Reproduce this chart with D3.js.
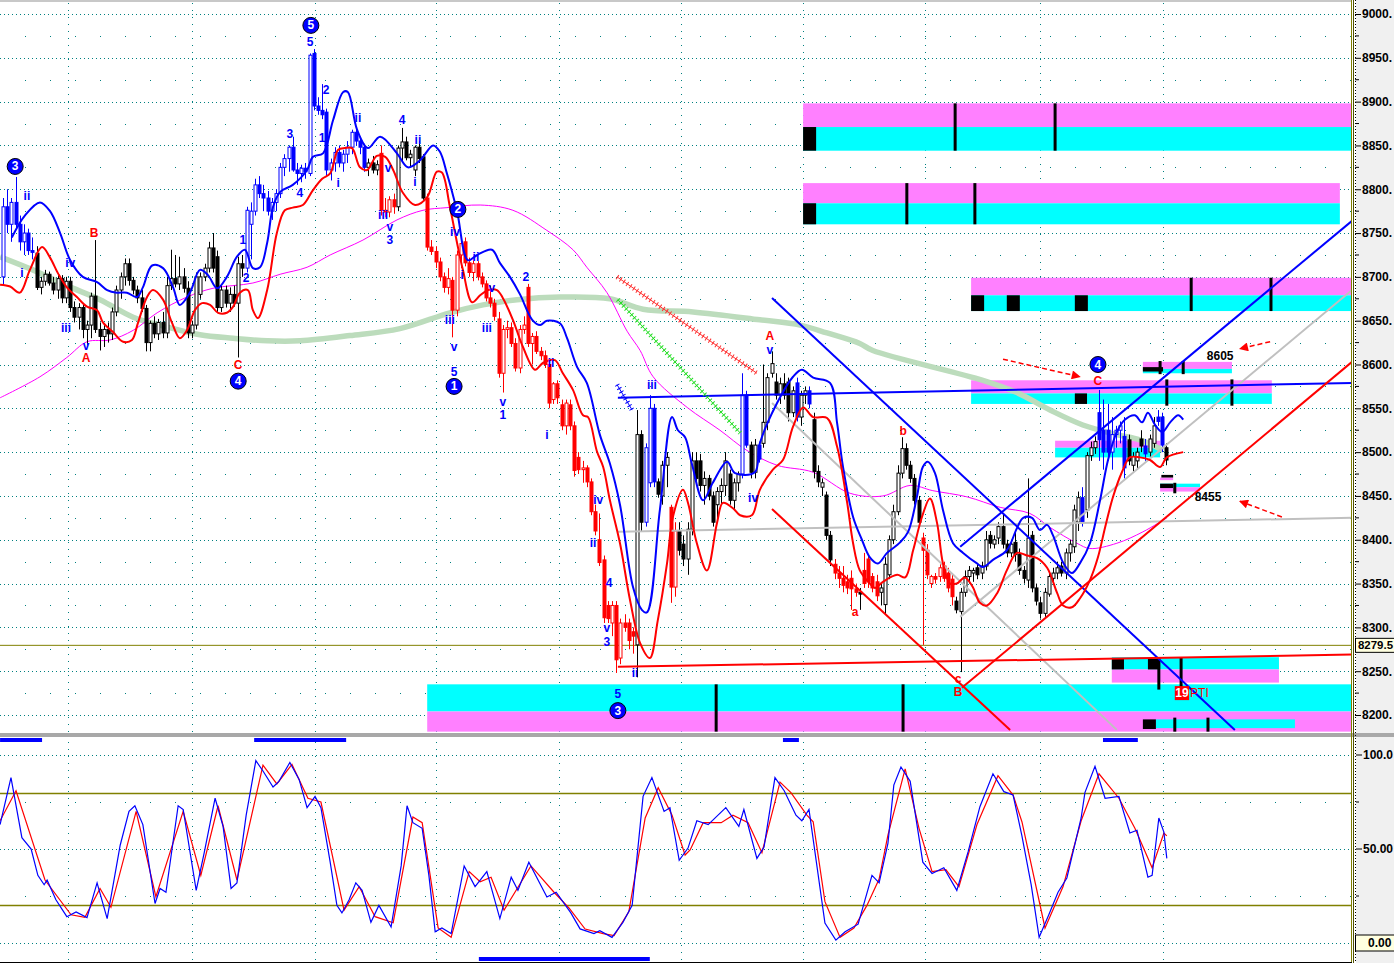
<!DOCTYPE html>
<html><head><meta charset="utf-8">
<script src="https://cdn.jsdelivr.net/npm/d3@7/dist/d3.min.js"></script>
<style>html,body{margin:0;padding:0;background:#fff;overflow:hidden}svg{display:block;font-family:"Liberation Sans",Arial,sans-serif}</style>
</head><body><svg id="chart" width="1394" height="963"></svg>
<script>
// ---------------- DATA ----------------
const priceTicks = [8200,8250,8300,8350,8400,8450,8500,8550,8600,8650,8700,8750,8800,8850,8900,8950,9000];
const oscTicks = [0,50,100];
const oscTickLabels = ["0.00","50.00","100.0"];
const oscLevels = [20,80];
const lastPrice = 8279.5;
// bar positions of the vertical grid lines
const gridBars = [15.5,45,74.3,103,132.4,161.4,190.5,219.5,247,276.2];

const opens = [
8700,8780,8760,8785,8760,8740,8750,8730,8727,8688,
8695,8703,8693,8685,8698,8676,8695,8665,8654,8665,
8640,8645,8678,8640,8632,8640,8635,8660,8685,8700,
8715,8696,8685,8676,8664,8625,8647,8635,8648,8636,
8690,8698,8692,8700,8687,8636,8645,8680,8700,8710,
8733,8723,8665,8685,8670,8680,8670,8715,8710,8760,
8775,8805,8795,8790,8775,8785,8795,8825,8835,8848,
8822,8818,8824,8818,8955,8895,8890,8888,8822,8830,
8842,8830,8840,8848,8865,8855,8848,8825,8830,8822,
8841,8776,8774,8788,8780,8847,8854,8836,8822,8848,
8837,8790,8734,8729,8717,8700,8688,8696,8662,8725,
8740,8716,8705,8715,8700,8692,8676,8670,8652,8590,
8640,8642,8624,8596,8640,8688,8624,8632,8615,8610,
8600,8560,8578,8554,8530,8554,8530,8494,8480,8482,
8466,8432,8400,8377,8325,8305,8325,8265,8305,8305,
8295,8280,8520,8420,8465,8550,8466,8450,8485,8437,
8346,8410,8395,8378,8412,8490,8490,8462,8470,8450,
8440,8455,8462,8475,8445,8465,8475,8565,8508,8477,
8508,8510,8534,8590,8580,8565,8578,8580,8545,8579,
8540,8565,8570,8537,8478,8460,8451,8405,8372,8362,
8356,8352,8356,8344,8340,8365,8378,8358,8352,8340,
8326,8360,8400,8432,8476,8504,8485,8470,8445,8402,
8388,8350,8358,8358,8370,8362,8355,8330,8318,8340,
8358,8362,8368,8362,8370,8405,8395,8402,8415,8395,
8385,8397,8383,8365,8354,8405,8345,8328,8316,8338,
8356,8362,8370,8362,8385,8392,8420,8448,8434,8496,
8505,8545,8525,8525,8500,8520,8525,8518,8514,8485,
8490,8515,8507,8500,8510,8540,8540,8505];
const highs = [
8790,8800,8790,8814,8770,8760,8755,8745,8735,8700,
8708,8706,8700,8702,8702,8700,8700,8672,8670,8668,
8650,8682,8742,8648,8645,8648,8665,8690,8705,8721,
8721,8700,8690,8685,8668,8650,8655,8652,8660,8700,
8731,8725,8723,8710,8695,8650,8705,8705,8715,8740,
8750,8730,8690,8690,8688,8690,8723,8725,8780,8785,
8812,8815,8805,8798,8790,8800,8830,8840,8850,8860,
8830,8828,8830,8955,8960,8905,8920,8892,8835,8848,
8850,8845,8855,8868,8870,8860,8852,8835,8838,8833,
8850,8790,8792,8795,8850,8870,8860,8845,8850,8855,
8840,8795,8742,8735,8722,8705,8710,8700,8730,8745,
8745,8722,8720,8718,8705,8696,8690,8675,8660,8645,
8650,8648,8630,8645,8655,8692,8636,8638,8620,8616,
8604,8580,8582,8560,8560,8560,8535,8500,8490,8485,
8470,8440,8430,8382,8330,8330,8330,8310,8315,8310,
8300,8548,8525,8510,8565,8555,8470,8490,8500,8440,
8420,8420,8405,8420,8500,8500,8498,8478,8474,8455,
8460,8470,8500,8480,8470,8478,8590,8570,8512,8515,
8512,8600,8590,8615,8590,8585,8590,8585,8575,8585,
8570,8575,8575,8545,8485,8470,8455,8410,8378,8370,
8370,8360,8365,8350,8345,8385,8382,8362,8360,8350,
8380,8405,8440,8485,8517,8510,8490,8475,8450,8408,
8395,8360,8362,8372,8375,8368,8360,8335,8345,8365,
8370,8368,8372,8375,8410,8410,8405,8420,8430,8400,
8400,8410,8390,8370,8470,8410,8350,8335,8345,8362,
8368,8375,8375,8390,8400,8440,8455,8460,8500,8512,
8518,8571,8560,8555,8540,8530,8535,8540,8520,8500,
8505,8525,8515,8520,8540,8548,8545,8510];
const lows = [
8690,8750,8740,8755,8730,8725,8725,8720,8685,8680,
8690,8690,8680,8675,8670,8670,8660,8648,8640,8630,
8622,8630,8636,8616,8620,8625,8628,8655,8675,8690,
8690,8680,8670,8660,8615,8615,8630,8628,8630,8630,
8685,8688,8685,8682,8630,8630,8640,8675,8695,8705,
8705,8660,8660,8665,8660,8666,8608,8700,8705,8720,
8770,8790,8775,8770,8765,8775,8790,8815,8820,8820,
8805,8808,8812,8815,8890,8885,8880,8815,8810,8820,
8825,8820,8830,8840,8850,8840,8820,8815,8818,8816,
8770,8768,8768,8772,8775,8830,8833,8825,8815,8830,
8788,8730,8725,8710,8695,8682,8680,8631,8655,8710,
8712,8700,8695,8696,8688,8672,8665,8650,8585,8568,
8630,8620,8592,8590,8635,8620,8600,8612,8605,8596,
8550,8555,8555,8525,8520,8525,8472,8475,8465,8460,
8428,8405,8370,8305,8305,8290,8248,8258,8295,8275,
8270,8243,8410,8415,8460,8460,8448,8440,8460,8328,
8335,8382,8370,8360,8405,8465,8455,8440,8445,8415,
8425,8440,8450,8440,8435,8455,8470,8505,8470,8470,
8488,8505,8525,8585,8560,8555,8560,8535,8540,8535,
8530,8555,8550,8470,8460,8450,8400,8370,8355,8345,
8340,8338,8320,8335,8320,8345,8345,8340,8330,8325,
8315,8355,8395,8428,8470,8480,8465,8440,8415,8280,
8355,8345,8350,8352,8352,8340,8325,8316,8249,8335,
8350,8352,8355,8355,8365,8390,8390,8395,8390,8380,
8380,8375,8360,8350,8345,8340,8325,8310,8312,8335,
8350,8355,8358,8355,8375,8385,8410,8415,8425,8490,
8498,8490,8480,8490,8480,8505,8510,8470,8485,8478,
8480,8500,8490,8495,8505,8530,8500,8485];
const closes = [
8780,8760,8785,8760,8740,8750,8730,8728,8688,8695,
8703,8693,8685,8698,8676,8695,8665,8654,8665,8640,
8645,8678,8640,8632,8640,8635,8660,8685,8700,8715,
8696,8685,8676,8664,8625,8647,8635,8648,8636,8690,
8698,8692,8700,8687,8636,8645,8700,8700,8710,8733,
8710,8665,8685,8670,8680,8670,8715,8710,8776,8775,
8805,8795,8790,8775,8785,8795,8825,8835,8848,8822,
8818,8824,8820,8953,8895,8890,8885,8822,8830,8842,
8830,8840,8848,8865,8855,8848,8825,8830,8822,8828,
8776,8774,8788,8780,8847,8854,8836,8840,8848,8835,
8790,8734,8729,8717,8700,8688,8698,8662,8725,8738,
8716,8705,8715,8700,8692,8676,8670,8655,8590,8640,
8642,8624,8596,8640,8645,8624,8632,8615,8610,8600,
8556,8578,8562,8530,8556,8530,8479,8480,8482,8466,
8432,8410,8374,8311,8310,8325,8263,8305,8300,8285,
8290,8520,8420,8505,8550,8466,8452,8485,8494,8346,
8410,8388,8378,8412,8490,8470,8462,8470,8450,8420,
8455,8462,8490,8445,8465,8475,8565,8508,8477,8508,
8492,8534,8585,8601,8565,8578,8565,8545,8570,8540,
8565,8570,8555,8478,8466,8465,8405,8377,8362,8356,
8348,8345,8344,8340,8338,8350,8352,8345,8336,8345,
8372,8400,8432,8476,8504,8485,8470,8445,8420,8388,
8360,8358,8355,8368,8356,8345,8335,8320,8340,8358,
8365,8365,8360,8370,8400,8396,8400,8415,8395,8385,
8395,8383,8365,8356,8402,8345,8330,8316,8340,8358,
8362,8368,8362,8385,8395,8434,8448,8420,8496,8505,
8512,8514,8500,8500,8520,8525,8530,8482,8490,8495,
8500,8507,8498,8515,8530,8535,8508,8491];
// trend group of each bar as runs: [group, count]  (k = neutral, b = up-wave, r = down-wave)
const candleTrendRuns = [["b",8],["k",50],["b",29],["k",3],["r",4],["k",7],["r",50],["k",2],["b",3],["k",3],["r",2],["k",15],["b",2],["k",2],["b",1],["k",8],["b",1],["k",2],["b",1],["k",5],["r",6],["k",1],["r",4],["k",10],["r",8],["k",30],["b",1],["k",3],["b",7],["k",4],["b",1],["k",2],["b",2],["k",1]];

// indicator lines: [bar position, price]
const upperBand = [[2.1,8745],[5.2,8770],[8.8,8785],[11.2,8775],[13.6,8750],[16,8719],[19,8700],[22.4,8694],[24.8,8685],[27.1,8682],[29.5,8682],[31.9,8677],[33.3,8688],[35.5,8713],[38.1,8710],[40.5,8688],[42.1,8668],[44.5,8682],[46.9,8708],[48.8,8702],[51,8687],[53.3,8700],[55.7,8723],[57.6,8731],[59.5,8710],[61.2,8711],[62.9,8739],[64.3,8780],[66,8797],[69,8805],[72.4,8822],[73.8,8837],[76.2,8841],[78.6,8879],[81,8911],[82.1,8911],[84.3,8868],[86.9,8847],[89.8,8860],[93.8,8841],[96.4,8825],[99.3,8833],[102.4,8850],[104,8843],[105.7,8818],[108.1,8775],[110.7,8719],[112.9,8725],[116.4,8731],[118.3,8716],[120.7,8700],[123.1,8680],[126,8651],[127.9,8645],[129.5,8650],[132.6,8647],[134.3,8630],[136.7,8597],[139,8579],[142.1,8520],[144.5,8487],[146.9,8440],[150,8346],[152.1,8320],[153.3,8317],[156.4,8434],[159.3,8540],[160.7,8525],[162.4,8517],[164,8487],[166.7,8445],[169,8465],[172.4,8489],[174.3,8476],[179,8477],[180.2,8510],[184.3,8556],[188.1,8586],[190.2,8594],[192.9,8585],[196.9,8579],[198.6,8533],[200,8483],[202.4,8426],[204.5,8400],[206.4,8380],[208.3,8373],[210.5,8385],[213.6,8397],[215.5,8409],[217.6,8449],[219,8483],[220.2,8489],[221.9,8476],[223.8,8434],[226.2,8396],[228.6,8385],[231.9,8373],[233.3,8369],[235.7,8377],[239,8388],[241.4,8413],[242.9,8425],[245,8425],[246.9,8411],[248.6,8417],[250,8405],[252.4,8374],[254.5,8362],[256.4,8373],[258.8,8396],[261.2,8445],[263.1,8491],[265.2,8523],[267.1,8537],[269.5,8542],[271.2,8534],[272.6,8545],[274.3,8531],[276,8523],[277.9,8534],[279.8,8542],[281,8537]];
const lowerBand = [[-0.7,8691],[1.7,8689],[4,8682],[6.4,8708],[9.3,8734],[11.2,8722],[13.1,8704],[15.2,8688],[17.6,8677],[20,8666],[22.4,8662],[23.8,8648],[26.2,8637],[28.6,8626],[30.7,8628],[32.1,8647],[34.3,8677],[35.7,8685],[38.1,8674],[40.2,8648],[42.1,8630],[43.8,8639],[45.7,8662],[47.4,8670],[49.3,8668],[51.2,8659],[53.3,8659],[54.8,8666],[56.4,8682],[58.3,8685],[59.5,8662],[60.7,8653],[62.9,8685],[65.2,8750],[67.1,8776],[69,8779],[71.4,8782],[73.8,8799],[76,8812],[77.9,8818],[79.8,8845],[81.4,8847],[83.1,8847],[85,8825],[86.7,8822],[89,8838],[91,8837],[92.9,8822],[95.2,8796],[98.1,8782],[101,8791],[103.3,8820],[104.5,8819],[106.4,8780],[108.1,8739],[109.5,8708],[111.7,8671],[113.6,8679],[115.5,8685],[117.6,8685],[119,8676],[121.4,8651],[123.8,8620],[126.7,8594],[128.6,8602],[131.4,8605],[133.3,8590],[135.7,8571],[138.1,8542],[139.3,8540],[141.4,8501],[142.9,8483],[144.5,8445],[146.9,8396],[149.3,8331],[151.7,8282],[154,8265],[155.9,8308],[158.1,8373],[159.5,8426],[161.9,8457],[163.1,8442],[165.2,8396],[167.6,8365],[170,8419],[171.4,8442],[173.8,8436],[175.5,8428],[178.3,8428],[180.2,8457],[183.3,8480],[185.7,8491],[188.1,8529],[190.5,8551],[192.9,8540],[196.2,8539],[198.6,8506],[201,8442],[202.4,8396],[204,8365],[206.4,8350],[207.6,8345],[209.5,8352],[212.9,8360],[214.8,8357],[216.7,8388],[218.8,8426],[220.7,8447],[222.4,8419],[223.8,8373],[225.5,8350],[227.1,8350],[229,8357],[230.9,8346],[232.6,8328],[234.3,8325],[236.7,8339],[239,8365],[241.4,8385],[243.8,8382],[246.2,8379],[248.6,8368],[251,8339],[252.4,8325],[254.5,8323],[256.4,8333],[258.8,8354],[260.7,8380],[262.4,8414],[264.3,8449],[266.4,8477],[268.3,8494],[270.7,8494],[273.1,8491],[275.5,8483],[277.1,8494],[281,8500]];
const slowAverage = [[-0.7,8562],[8.8,8586],[15.2,8608],[20,8626],[25.5,8628],[31,8639],[36.7,8659],[43.8,8677],[50,8687],[59.5,8693],[66,8703],[72.4,8711],[77.9,8725],[85.7,8742],[93.8,8765],[100,8776],[105.7,8779],[113.6,8782],[121.4,8776],[129.5,8753],[135.7,8731],[139,8711],[143.8,8682],[148.6,8638],[151.7,8616],[154.8,8586],[162.9,8551],[170.7,8525],[177.1,8502],[184.3,8485],[192.9,8477],[201.7,8453],[209.5,8450],[216,8462],[221.4,8456],[229.5,8449],[237.4,8437],[244.5,8430],[249.3,8414],[255.7,8396],[258.8,8390],[265.2,8396],[271.4,8409],[277.1,8425]];
const longAverage = [[-0.7,8723],[7.1,8708],[15.2,8690],[23.1,8674],[31,8654],[39,8643],[46.9,8634],[54.8,8630],[62.9,8627],[70.7,8627],[82.6,8633],[94.5,8641],[106.4,8659],[114.3,8668],[122.4,8674],[132.6,8677],[144.5,8675],[152.4,8663],[164.3,8660],[180.2,8651],[189.8,8645],[196.2,8636],[204,8624],[207.1,8616],[233.3,8582],[241.4,8568],[249.3,8548],[257.1,8531],[265.2,8520],[270.7,8514],[276.2,8502]];

// trend lines: [bar0, price0, bar1, price1, colour key, marked]
const trendLines = [
 [146.4,8409,321.2,8425,"g",0],
 [183.1,8556,265.2,8183,"g",0],
 [227.9,8312,321.2,8685,"g",0],
 [183.1,8676,293.3,8183,"b",0],
 [146.4,8562,321.2,8579,"b",0],
 [227.9,8392,321.2,8764,"b",0],
 [183.1,8435,239.8,8183,"r",0],
 [228.3,8231,321.2,8603,"r",0],
 [146.4,8255,321.2,8269,"r",0],
 [146.2,8700,179.5,8590,"rx",1],
 [146.4,8674,175.5,8522,"gx",1],
 [146.2,8577,149.8,8548,"bx",1]];

// supply / demand zones: [bar0, bar1, priceTop, priceBottom, colour key]
const zoneBands = [
 [190.5,321.2,8898,8871,"m"],[190.5,321.2,8871,8844,"c"],
 [190.5,318.3,8807,8784,"m"],[190.5,318.3,8784,8760,"c"],
 [230.5,321.2,8699,8679,"m"],[230.5,321.2,8679,8661,"c"],
 [230.5,302.1,8582,8567,"m"],[230.5,302.1,8567,8555,"c"],
 [271.4,292.6,8603,8595,"m"],[271.4,292.6,8595,8590,"c"],
 [250.5,275.5,8513,8505,"m"],[250.5,275.5,8505,8494,"c"],
 [275.5,285,8464,8460,"c"],[275.5,285,8460,8455,"m"],
 [275.5,278.6,8471,8468,"m"],
 [264,303.8,8266,8252,"c"],[264,303.8,8252,8237,"m"],
 [101,321.2,8235,8204,"c"],[101,321.2,8204,8181,"m"],
 [274.5,307.6,8195,8185,"c"]];
const zoneBlocks = [
 [190.5,193.6,8871,8844],[190.5,193.6,8784,8760],
 [230.5,233.6,8679,8661],[239,242.1,8679,8661],[255.2,258.3,8679,8661],
 [255.2,258.1,8567,8555],[271.4,276.2,8597,8592],
 [275.5,278.6,8464,8459],[275.8,278.6,8474,8471],
 [264,266.9,8264,8252],[272.6,275.5,8264,8252],[271.4,274.5,8195,8184]];
const zoneTicks = [
 [226.7,8898,8844],[250.5,8898,8844],[215.2,8807,8760],[231.4,8807,8760],
 [282.9,8699,8661],[301.9,8699,8661],[277.1,8583,8553],[292.6,8583,8553],
 [275.5,8604,8589],[281,8604,8589],[279,8465,8453],
 [275.2,8266,8229],[280.5,8266,8229],[169.8,8235,8181],[214.3,8235,8181],
 [279,8197,8181],[286.9,8197,8181]];

// wave labels: [text, bar, price, colour key]
const waveLabels = [
 ["ii",5.7,8792,"b"],["i",4.5,8704,"b"],["iv",16,8716,"b"],["iii",15,8642,"b"],["v",19.8,8621,"b"],["A",19.8,8607,"r"],["B",21.7,8750,"r"],["C",56,8599,"r"],
 ["1",57.1,8742,"b"],["2",57.9,8699,"b"],
 ["3",68.3,8863,"b"],["4",70.7,8796,"b"],["5",73.1,8968,"b"],["2",76.9,8913,"b"],["1",76,8858,"b"],["i",79.8,8807,"b"],["ii",84.5,8881,"b"],["v",91.7,8824,"b"],["iii",90.5,8771,"b"],["v",92.1,8757,"b"],["3",92.1,8742,"b"],["4",95,8879,"b"],["ii",98.8,8856,"b"],["i",98.1,8808,"b"],
 ["iv",107.6,8751,"b"],["ii",112.6,8723,"b"],["i",109.3,8702,"b"],["v",116.4,8687,"b"],["iii",106.4,8651,"b"],["v",107.4,8620,"b"],["5",107.4,8591,"b"],["iii",115.2,8642,"b"],["v",119,8557,"b"],["1",119,8542,"b"],["2",124.5,8700,"b"],["i",129.5,8519,"b"],["ii",130.5,8602,"b"],
 ["iv",141.7,8445,"b"],["ii",140.5,8396,"b"],["4",144.3,8351,"b"],["v",143.8,8299,"b"],["3",143.8,8283,"b"],["ii",150.5,8248,"b"],["5",146.4,8224,"b"],
 ["iii",154.5,8577,"b"],["A",182.6,8632,"r"],["v",182.6,8616,"b"],["iv",178.6,8448,"b"],
 ["a",202.9,8317,"r"],["b",214.3,8524,"r"],["c",227.4,8241,"r"],["B",227.4,8226,"r"],["C",260.7,8581,"r"]];
const waveCircles = [["3",2.9,8826],["5",73.3,8987],["2",108.3,8777],["1",107.4,8575],["4",56,8581],["3",146.4,8205],["4",260.7,8600]];
const priceNotes = [["8605",289.8,8610],["8455",286.9,8449]];
const arrows = [[238.1,8606,256.4,8586],[301.7,8626,294.5,8618],[304.5,8426,294.5,8444]];
const ptiBox = {text:"19",label:"PTI",bar0:279,bar1:282.4,top:8233,bottom:8217};

// stochastic oscillator: [bar position, value]
const stochK = [[-0.7,63],[1.9,88],[4.5,56],[6.7,50],[8.3,36],[9.8,31],[10.5,33.5],[12.6,23],[15.2,14],[17.4,16.5],[20,13.5],[22.4,32],[24.8,13],[27.9,52],[30,70],[31.4,73],[33.3,63],[36.2,21],[37.4,29],[38.8,27],[41.7,73],[42.9,71],[46,28],[47.9,48],[50.5,77],[52.4,62],[54.3,29],[55.7,32],[57.9,68],[60.2,97],[61.9,91.5],[64.3,83],[65.7,86],[68.3,96],[70.5,87],[72.4,72],[74.3,78],[75.7,72],[77.9,43],[79.5,20],[80.7,16],[82.4,23],[84,32],[85.5,28],[87.6,11],[89.5,20],[92.4,8.5],[94.8,41],[96.2,73],[97.6,64],[99.8,61],[101.4,36],[102.9,6],[104.5,8],[106.7,5],[109.8,41],[112.4,30],[115.2,38],[118.3,13],[121,35],[122.6,28],[125.2,43],[129.5,24.5],[131.7,27],[135.2,16],[137.4,7.5],[140.7,5],[142.1,6.5],[145,3],[147.6,11],[149.8,20],[152.4,78],[154.5,88],[157.4,70],[158.8,72],[161,44],[163.1,50.5],[165.2,65],[167.9,63],[172.1,72],[175.2,62],[176.4,71],[179.5,45],[181.2,51],[183.8,88],[186,81],[188.8,68],[190.2,65],[191.9,71],[195.7,10.6],[198.3,1.5],[200.5,6],[203.6,10],[206.9,36],[208.6,32],[210.7,53],[212.1,84],[213.8,93.6],[216,86],[219,43],[221.2,37],[224,40],[227.1,28],[229.8,48.6],[232.6,72.5],[235.7,90],[238.3,80.5],[240.5,78.7],[242.6,57],[244.8,31],[246.7,3],[249,15],[251.2,27],[253.3,34.6],[256.7,66.5],[257.6,80],[260,94],[262.4,77],[265.7,78],[268.3,58.5],[270,60],[272.6,35],[273.6,36],[275.2,66.5],[276.4,59],[277.1,45]];
const stochD = [[-0.7,65],[3.1,81],[10,33.5],[16.2,15],[19.5,13.7],[23.1,29],[25.7,19],[31.7,70],[36.4,24.6],[42.9,70],[47.1,36],[51.2,73],[55.7,33.5],[61.9,94.6],[65.2,84.6],[68.8,95],[72.6,77],[75.7,75],[81.2,17.5],[84.8,30],[88.6,14],[92.9,10.8],[97.6,67],[99.8,64],[103.6,8],[106.7,3],[111,38],[113.6,32.6],[116.2,35],[119.3,17.5],[125.7,41],[131.2,27],[134.8,18.6],[138.6,7.4],[142.9,5],[145.5,4],[149,16.6],[152.9,66.5],[156,82.6],[159.3,68],[162.4,46.8],[163.6,49.5],[166.7,64],[171,64],[173.8,68],[177.4,64],[180.7,48],[185,85.6],[187.6,80],[191.4,68],[192.9,64.5],[195.7,22],[199.3,3],[202.6,8],[205.7,20],[208.6,34],[210.7,57.4],[214.8,92.6],[218.1,61],[221.2,38],[224.5,39],[227.6,30],[231.9,63],[236.9,89],[240.5,78.7],[242.6,64.5],[248.1,8],[252.4,30],[256.7,65],[260.95,90],[265.7,77],[269.5,61],[273.6,40],[276.4,58.5],[277.1,57]];
// signal strips: [bar0, bar1]
const signalTop = [[-0.7,9.3],[59.8,81.7],[185.7,189.5],[261.9,270.2]];
const signalBottom = [[113.3,154]];

// ---------------- DRAWING ----------------
const svg = d3.select('#chart');
const PW = 1352, MAIN_H = 733;
const xB = d3.scaleLinear().domain([0,277]).range([3,1166.4]);
const yP = d3.scaleLinear().domain([8200,9000]).range([715,14]);
const yO = d3.scaleLinear().domain([0,100]).range([943,755]);
const COL = {k:"#000000", b:"#0000ff", r:"#ff0000", g:"#c0c0c0", m:"#ff80ff", c:"#00ffff", rx:"#ff3030", gx:"#22dd22", bx:"#0000ff"};

const defs = svg.append('defs');
defs.append('clipPath').attr('id','clipMain').append('rect').attr('x',0).attr('y',0).attr('width',PW).attr('height',MAIN_H);
defs.append('clipPath').attr('id','clipOsc').append('rect').attr('x',0).attr('y',738).attr('width',PW).attr('height',225);
defs.append('marker').attr('id','arrowHead').attr('viewBox','0 0 10 10').attr('refX',9).attr('refY',5)
  .attr('markerWidth',7).attr('markerHeight',6).attr('orient','auto')
  .append('path').attr('d','M0,0L10,5L0,10z').attr('fill','#ff0000');

svg.append('rect').attr('width',1394).attr('height',963).attr('fill','#ffffff');
svg.append('rect').attr('x',1356).attr('y',0).attr('width',38).attr('height',963).attr('fill','#f0f0f0');

const main = svg.append('g').attr('clip-path','url(#clipMain)');
const osc = svg.append('g').attr('clip-path','url(#clipOsc)');

// grid main
const gridG = main.append('g');
gridG.selectAll('.hg').data(priceTicks).join('line')
  .attr('x1',0).attr('x2',PW).attr('y1',d=>Math.round(yP(d))+0.5).attr('y2',d=>Math.round(yP(d))+0.5)
  .attr('stroke','#008080').attr('stroke-width',1).attr('stroke-dasharray','1,3');
gridG.selectAll('.hm').data(priceTicks.slice(0,-1)).join('line')
  .attr('x1',25).attr('x2',PW).attr('y1',d=>Math.round(yP(d+25))+0.5).attr('y2',d=>Math.round(yP(d+25))+0.5)
  .attr('stroke','#008080').attr('stroke-width',1).attr('stroke-dasharray','1,24');
gridG.selectAll('.vg').data(gridBars).join('line')
  .attr('x1',d=>Math.round(xB(d))+0.5).attr('x2',d=>Math.round(xB(d))+0.5).attr('y1',3).attr('y2',MAIN_H)
  .attr('stroke','#008080').attr('stroke-width',1).attr('stroke-dasharray','1,6');

// zones
main.append('g').selectAll('rect').data(zoneBands).join('rect')
  .attr('x',d=>xB(d[0])).attr('width',d=>xB(d[1])-xB(d[0]))
  .attr('y',d=>yP(d[2])).attr('height',d=>yP(d[3])-yP(d[2])).attr('fill',d=>COL[d[4]]);
main.append('g').selectAll('rect').data(zoneBlocks).join('rect')
  .attr('x',d=>xB(d[0])).attr('width',d=>xB(d[1])-xB(d[0]))
  .attr('y',d=>yP(d[2])).attr('height',d=>yP(d[3])-yP(d[2])).attr('fill','#000');
main.append('g').selectAll('line').data(zoneTicks).join('line')
  .attr('x1',d=>xB(d[0])).attr('x2',d=>xB(d[0])).attr('y1',d=>yP(d[1])).attr('y2',d=>yP(d[2]))
  .attr('stroke','#000').attr('stroke-width',3);

// last price line
main.append('line').attr('x1',0).attr('x2',PW).attr('y1',yP(lastPrice)).attr('y2',yP(lastPrice))
  .attr('stroke','#808000').attr('stroke-width',1);

// moving averages
const lineGen = d3.line().x(d=>xB(d[0])).y(d=>yP(d[1])).curve(d3.curveCatmullRom.alpha(0.5));
main.append('path').datum(longAverage).attr('d',lineGen).attr('fill','none').attr('stroke','#bcdcbc').attr('stroke-width',5.5);
main.append('path').datum(slowAverage).attr('d',lineGen).attr('fill','none').attr('stroke','#ff00ff').attr('stroke-width',1);

// candles
const trend = candleTrendRuns.flatMap(([g,n]) => Array(n).fill(g));
const bars = closes.map((c,i)=>({i,o:opens[i],h:highs[i],l:lows[i],c,g:trend[i]||'k'}));
const cg = main.append('g');
cg.selectAll('line').data(bars).join('line')
  .attr('x1',d=>Math.round(xB(d.i))+0.5).attr('x2',d=>Math.round(xB(d.i))+0.5)
  .attr('y1',d=>yP(d.h)).attr('y2',d=>yP(d.l)).attr('stroke',d=>COL[d.g]).attr('stroke-width',1);
cg.selectAll('rect').data(bars).join('rect')
  .attr('x',d=>Math.round(xB(d.i))-1).attr('width',3)
  .attr('y',d=>yP(Math.max(d.o,d.c))).attr('height',d=>Math.max(1,Math.abs(yP(d.o)-yP(d.c))))
  .attr('fill',d=>d.c>=d.o?'#ffffff':COL[d.g]).attr('stroke',d=>COL[d.g]).attr('stroke-width',1);

// trend lines
const tl = main.append('g');
tl.selectAll('line.plain').data(trendLines.filter(d=>!d[5])).join('line')
  .attr('x1',d=>xB(d[0])).attr('y1',d=>yP(d[1])).attr('x2',d=>xB(d[2])).attr('y2',d=>yP(d[3]))
  .attr('stroke',d=>COL[d[4]]).attr('stroke-width',2);
const marked = trendLines.filter(d=>d[5]);
tl.selectAll('line.mk1').data(marked).join('line')
  .attr('x1',d=>xB(d[0])).attr('y1',d=>yP(d[1])).attr('x2',d=>xB(d[2])).attr('y2',d=>yP(d[3]))
  .attr('stroke',d=>COL[d[4]]).attr('stroke-width',1);
tl.selectAll('line.mk2').data(marked).join('line')
  .attr('x1',d=>xB(d[0])).attr('y1',d=>yP(d[1])).attr('x2',d=>xB(d[2])).attr('y2',d=>yP(d[3]))
  .attr('stroke',d=>COL[d[4]]).attr('stroke-width',5).attr('stroke-dasharray','1,3');

// envelope lines
main.append('path').datum(upperBand).attr('d',lineGen).attr('fill','none').attr('stroke','#0000ff').attr('stroke-width',2);
main.append('path').datum(lowerBand).attr('d',lineGen).attr('fill','none').attr('stroke','#ff0000').attr('stroke-width',2);

// labels
main.append('g').selectAll('text').data(waveLabels).join('text')
  .attr('x',d=>xB(d[1])).attr('y',d=>yP(d[2])).attr('text-anchor','middle').attr('dominant-baseline','central')
  .attr('font-size',12).attr('font-weight','bold').attr('fill',d=>COL[d[3]]).text(d=>d[0]);
const circ = main.append('g').selectAll('g').data(waveCircles).join('g')
  .attr('transform',d=>`translate(${xB(d[1])},${yP(d[2])})`);
circ.append('circle').attr('r',8).attr('fill','#0000ff').attr('stroke','#000').attr('stroke-width',1);
circ.append('text').attr('text-anchor','middle').attr('dominant-baseline','central').attr('font-size',12)
  .attr('font-weight','bold').attr('fill','#fff').text(d=>d[0]);
main.append('g').selectAll('text').data(priceNotes).join('text')
  .attr('x',d=>xB(d[1])).attr('y',d=>yP(d[2])).attr('text-anchor','middle').attr('dominant-baseline','central')
  .attr('font-size',12).attr('font-weight','bold').attr('fill','#000').text(d=>d[0]);
main.append('g').selectAll('line').data(arrows).join('line')
  .attr('x1',d=>xB(d[0])).attr('y1',d=>yP(d[1])).attr('x2',d=>xB(d[2])).attr('y2',d=>yP(d[3]))
  .attr('stroke','#ff0000').attr('stroke-width',1.5).attr('stroke-dasharray','5,3').attr('marker-end','url(#arrowHead)');
main.append('rect').attr('x',xB(ptiBox.bar0)).attr('y',yP(ptiBox.top)).attr('width',xB(ptiBox.bar1)-xB(ptiBox.bar0))
  .attr('height',yP(ptiBox.bottom)-yP(ptiBox.top)).attr('fill','#ff0000');
main.append('text').attr('x',(xB(ptiBox.bar0)+xB(ptiBox.bar1))/2).attr('y',yP((ptiBox.top+ptiBox.bottom)/2))
  .attr('text-anchor','middle').attr('dominant-baseline','central').attr('font-size',12).attr('font-weight','bold')
  .attr('fill','#fff').text(ptiBox.text);
main.append('text').attr('x',xB(ptiBox.bar1)+1).attr('y',yP((ptiBox.top+ptiBox.bottom)/2))
  .attr('dominant-baseline','central').attr('font-size',12).attr('fill','#ff0000').text(ptiBox.label);

// frame lines
svg.append('rect').attr('x',0).attr('y',0).attr('width',PW).attr('height',2).attr('fill','#c8c8c8');
svg.append('rect').attr('x',0).attr('y',733).attr('width',1394).attr('height',4).attr('fill','#a8a8a8');
svg.append('line').attr('x1',1351.5).attr('x2',1351.5).attr('y1',0).attr('y2',963).attr('stroke','#808000');
svg.append('line').attr('x1',1353.5).attr('x2',1353.5).attr('y1',0).attr('y2',963).attr('stroke','#505000');
svg.append('line').attr('x1',1355.5).attr('x2',1355.5).attr('y1',0).attr('y2',963).attr('stroke','#000').attr('stroke-dasharray','1,2');

// price axis
const ay = svg.append('g').attr('transform','translate(1355,0)')
  .call(d3.axisRight(yP).tickValues(priceTicks).tickSize(6).tickPadding(1).tickFormat(d=>d+'.'));
ay.select('.domain').remove();
ay.attr('font-family','"Liberation Sans",Arial,sans-serif').attr('font-size',12).attr('font-weight','bold');
ay.selectAll('line').attr('stroke','#000');
ay.selectAll('text').attr('fill','#000');
svg.append('g').selectAll('line').data(priceTicks.slice(0,-1)).join('line')
  .attr('x1',1355).attr('x2',1359).attr('y1',d=>yP(d+25)).attr('y2',d=>yP(d+25)).attr('stroke','#000');
svg.append('rect').attr('x',1355.5).attr('y',yP(lastPrice)-7).attr('width',40).attr('height',14)
  .attr('fill','#ffffe0').attr('stroke','#000');
svg.append('text').attr('x',1358).attr('y',yP(lastPrice)).attr('dominant-baseline','central')
  .attr('font-size',11).attr('font-weight','bold').attr('textLength',35).attr('lengthAdjust','spacingAndGlyphs').text(lastPrice.toFixed(1));

// oscillator panel
osc.selectAll('.og').data(oscTicks).join('line')
  .attr('x1',0).attr('x2',PW).attr('y1',d=>Math.round(yO(d))+0.5).attr('y2',d=>Math.round(yO(d))+0.5)
  .attr('stroke','#008080').attr('stroke-dasharray','1,3');
osc.selectAll('.om').data([25,75]).join('line')
  .attr('x1',25).attr('x2',PW).attr('y1',d=>Math.round(yO(d))+0.5).attr('y2',d=>Math.round(yO(d))+0.5)
  .attr('stroke','#008080').attr('stroke-dasharray','1,24');
osc.selectAll('.ov').data(gridBars).join('line')
  .attr('x1',d=>Math.round(xB(d))+0.5).attr('x2',d=>Math.round(xB(d))+0.5).attr('y1',742).attr('y2',963)
  .attr('stroke','#008080').attr('stroke-dasharray','1,6');
osc.selectAll('.ol').data(oscLevels).join('line')
  .attr('x1',0).attr('x2',PW).attr('y1',d=>Math.round(yO(d))+0.5).attr('y2',d=>Math.round(yO(d))+0.5)
  .attr('stroke','#808000').attr('stroke-width',1.5);
const oLine = d3.line().x(d=>xB(d[0])).y(d=>yO(d[1]));
osc.append('path').datum(stochD).attr('d',oLine).attr('fill','none').attr('stroke','#ff0000').attr('stroke-width',1.2);
osc.append('path').datum(stochK).attr('d',oLine).attr('fill','none').attr('stroke','#0000ff').attr('stroke-width',1.2);
osc.selectAll('.st').data(signalTop).join('rect')
  .attr('x',d=>xB(d[0])).attr('width',d=>xB(d[1])-xB(d[0])).attr('y',738).attr('height',4).attr('fill','#0000ff');
osc.selectAll('.sb').data(signalBottom).join('rect')
  .attr('x',d=>xB(d[0])).attr('width',d=>xB(d[1])-xB(d[0])).attr('y',957).attr('height',4).attr('fill','#0000ff');
svg.append('line').attr('x1',0).attr('x2',PW).attr('y1',962.5).attr('y2',962.5).attr('stroke','#000');

// oscillator axis
const ao = svg.append('g');
ao.selectAll('line.t').data(oscTicks).join('line').attr('x1',1356).attr('x2',1362)
  .attr('y1',d=>yO(d)).attr('y2',d=>yO(d)).attr('stroke','#000');
ao.selectAll('line.m').data([25,75]).join('line').attr('x1',1356).attr('x2',1359)
  .attr('y1',d=>yO(d)).attr('y2',d=>yO(d)).attr('stroke','#000');
ao.append('rect').attr('x',1355.5).attr('y',yO(0)-8).attr('width',40).attr('height',16).attr('fill','#ffffe0').attr('stroke','#000');
ao.selectAll('text').data(oscTicks).join('text')
  .attr('x',(d,i)=>i===0?1368:1363).attr('y',d=>yO(d)).attr('dominant-baseline','central')
  .attr('font-size',12).attr('font-weight','bold').attr('fill','#000').text((d,i)=>oscTickLabels[i]);
</script></body></html>
